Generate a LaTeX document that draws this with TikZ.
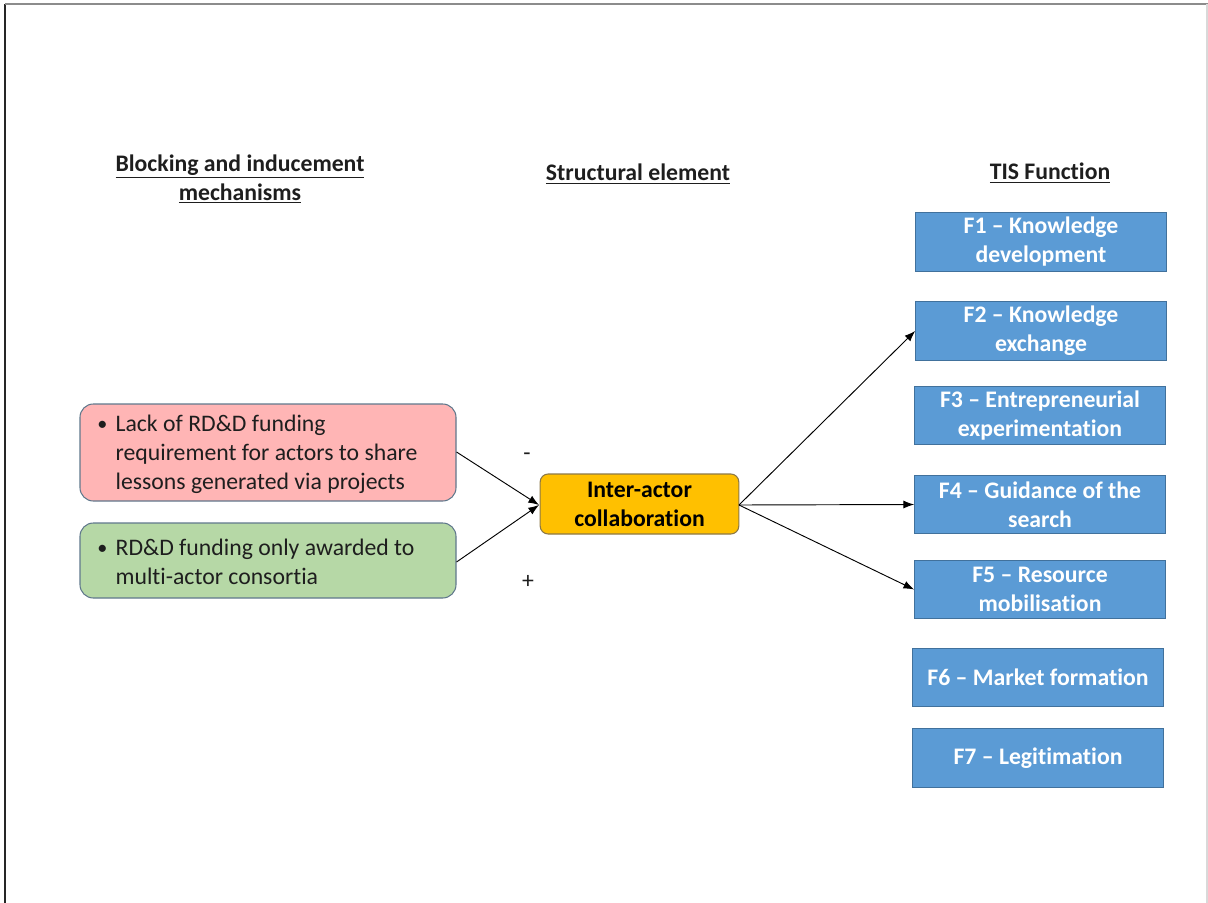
\documentclass[tikz,border=0pt]{standalone}
\usepackage{fontspec}
\setmainfont{Carlito}[Ligatures=NoCommon]
\usetikzlibrary{arrows.meta}
\definecolor{pinkfill}{RGB}{255,181,181}
\definecolor{greenfill}{RGB}{182,216,166}
\definecolor{boxline}{RGB}{96,120,140}
\definecolor{orangefill}{RGB}{255,192,0}
\definecolor{orangeline}{RGB}{140,120,70}
\definecolor{bluefill}{RGB}{91,155,213}
\definecolor{blueline}{RGB}{65,113,156}
\definecolor{textdark}{RGB}{30,30,30}
\newcommand{\fsz}{\fontsize{17.8}{21.75}\selectfont}
\newcommand{\smbullet}{\raisebox{0.05em}{\scalebox{0.85}{\textbullet}}}
\begin{document}
\begin{tikzpicture}[x=0.75pt,y=-0.75pt,
  every node/.style={font=\fsz, text=textdark},
  header/.style={font=\fsz\bfseries, align=center},
  mechbox/.style={draw=boxline, line width=0.8pt, rounded corners=10pt, minimum width=282pt, anchor=center},
  mechtext/.style={anchor=west, inner sep=0pt},
  structbox/.style={draw=orangeline, line width=0.8pt, fill=orangefill, rounded corners=6pt, minimum width=149pt, minimum height=45pt, align=center, font=\fsz\bfseries, text=black},
  funcbox/.style={draw=blueline, line width=0.8pt, fill=bluefill, minimum width=188pt, minimum height=44pt, align=center, font=\fsz\bfseries, text=white, inner sep=1pt},
  conn/.style={draw=black, line width=0.7pt, -{Latex[length=8pt,width=6pt]}},
  sign/.style={font=\fsz}
]
\useasboundingbox (0,0) rectangle (1208,903);
% frame
\draw[line width=1.5pt, color=black!85] (5,903) -- (5,4);
\draw[line width=1.2pt, color=black!45] (5,4) -- (1208,4);
\draw[line width=0.8pt, color=black!15] (1207,4) -- (1207,903);

% headers
\node[header] (h1) at (240,179) {\underline{Blocking and inducement}\\\underline{mechanisms}};
\node[header] (h2) at (638,174) {\underline{Structural element}};
\node[header] (h3) at (1050,173) {\underline{TIS Function}};

% mechanism boxes
\node[mechbox, fill=pinkfill, minimum height=72.75pt] (red) at (268,452.5) {};
\node[mechtext] (redtext) at (97,455)
  {\begin{tabular}{@{}l@{\hspace{0.35em}}l@{}}\smbullet & Lack of RD\&D funding\\ & requirement for actors to share\\ & lessons generated via projects\end{tabular}};
\node[mechbox, fill=greenfill, minimum height=56.25pt] (green) at (268,560.5) {};
\node[mechtext] (greentext) at (97,564)
  {\begin{tabular}{@{}l@{\hspace{0.35em}}l@{}}\smbullet & RD\&D funding only awarded to\\ & multi-actor consortia\end{tabular}};

% structural element
\node[structbox] (iac) at (639.5,504) {Inter-actor\\collaboration};

% functions
\node[funcbox] (f1) at (1041,242) {F1 -- Knowledge\\development};
\node[funcbox] (f2) at (1041,331) {F2 -- Knowledge\\exchange};
\node[funcbox] (f3) at (1040,415.5) {F3 -- Entrepreneurial\\experimentation};
\node[funcbox] (f4) at (1040,504.5) {F4 -- Guidance of the\\search};
\node[funcbox] (f5) at (1040,589.5) {F5 -- Resource\\mobilisation};
\node[funcbox] (f6) at (1038,677.5) {F6 -- Market formation};
\node[funcbox] (f7) at (1038,758) {F7 -- Legitimation};

% connectors
\coordinate (iacin) at (539,505);
\coordinate (iacout) at (739,505);
\draw[conn] (red.east |- 0,452) -- (iacin);
\draw[conn] (green.east |- 0,562) -- (iacin);
\draw[conn] (iacout) -- (f2.west);
\draw[conn] (iacout) -- (f4.west);
\draw[conn] (iacout) -- (f5.west);

% signs
\node[sign] (minus) at (527,457) {-};
\node[sign] (plus) at (528,582) {+};
\end{tikzpicture}
\end{document}
